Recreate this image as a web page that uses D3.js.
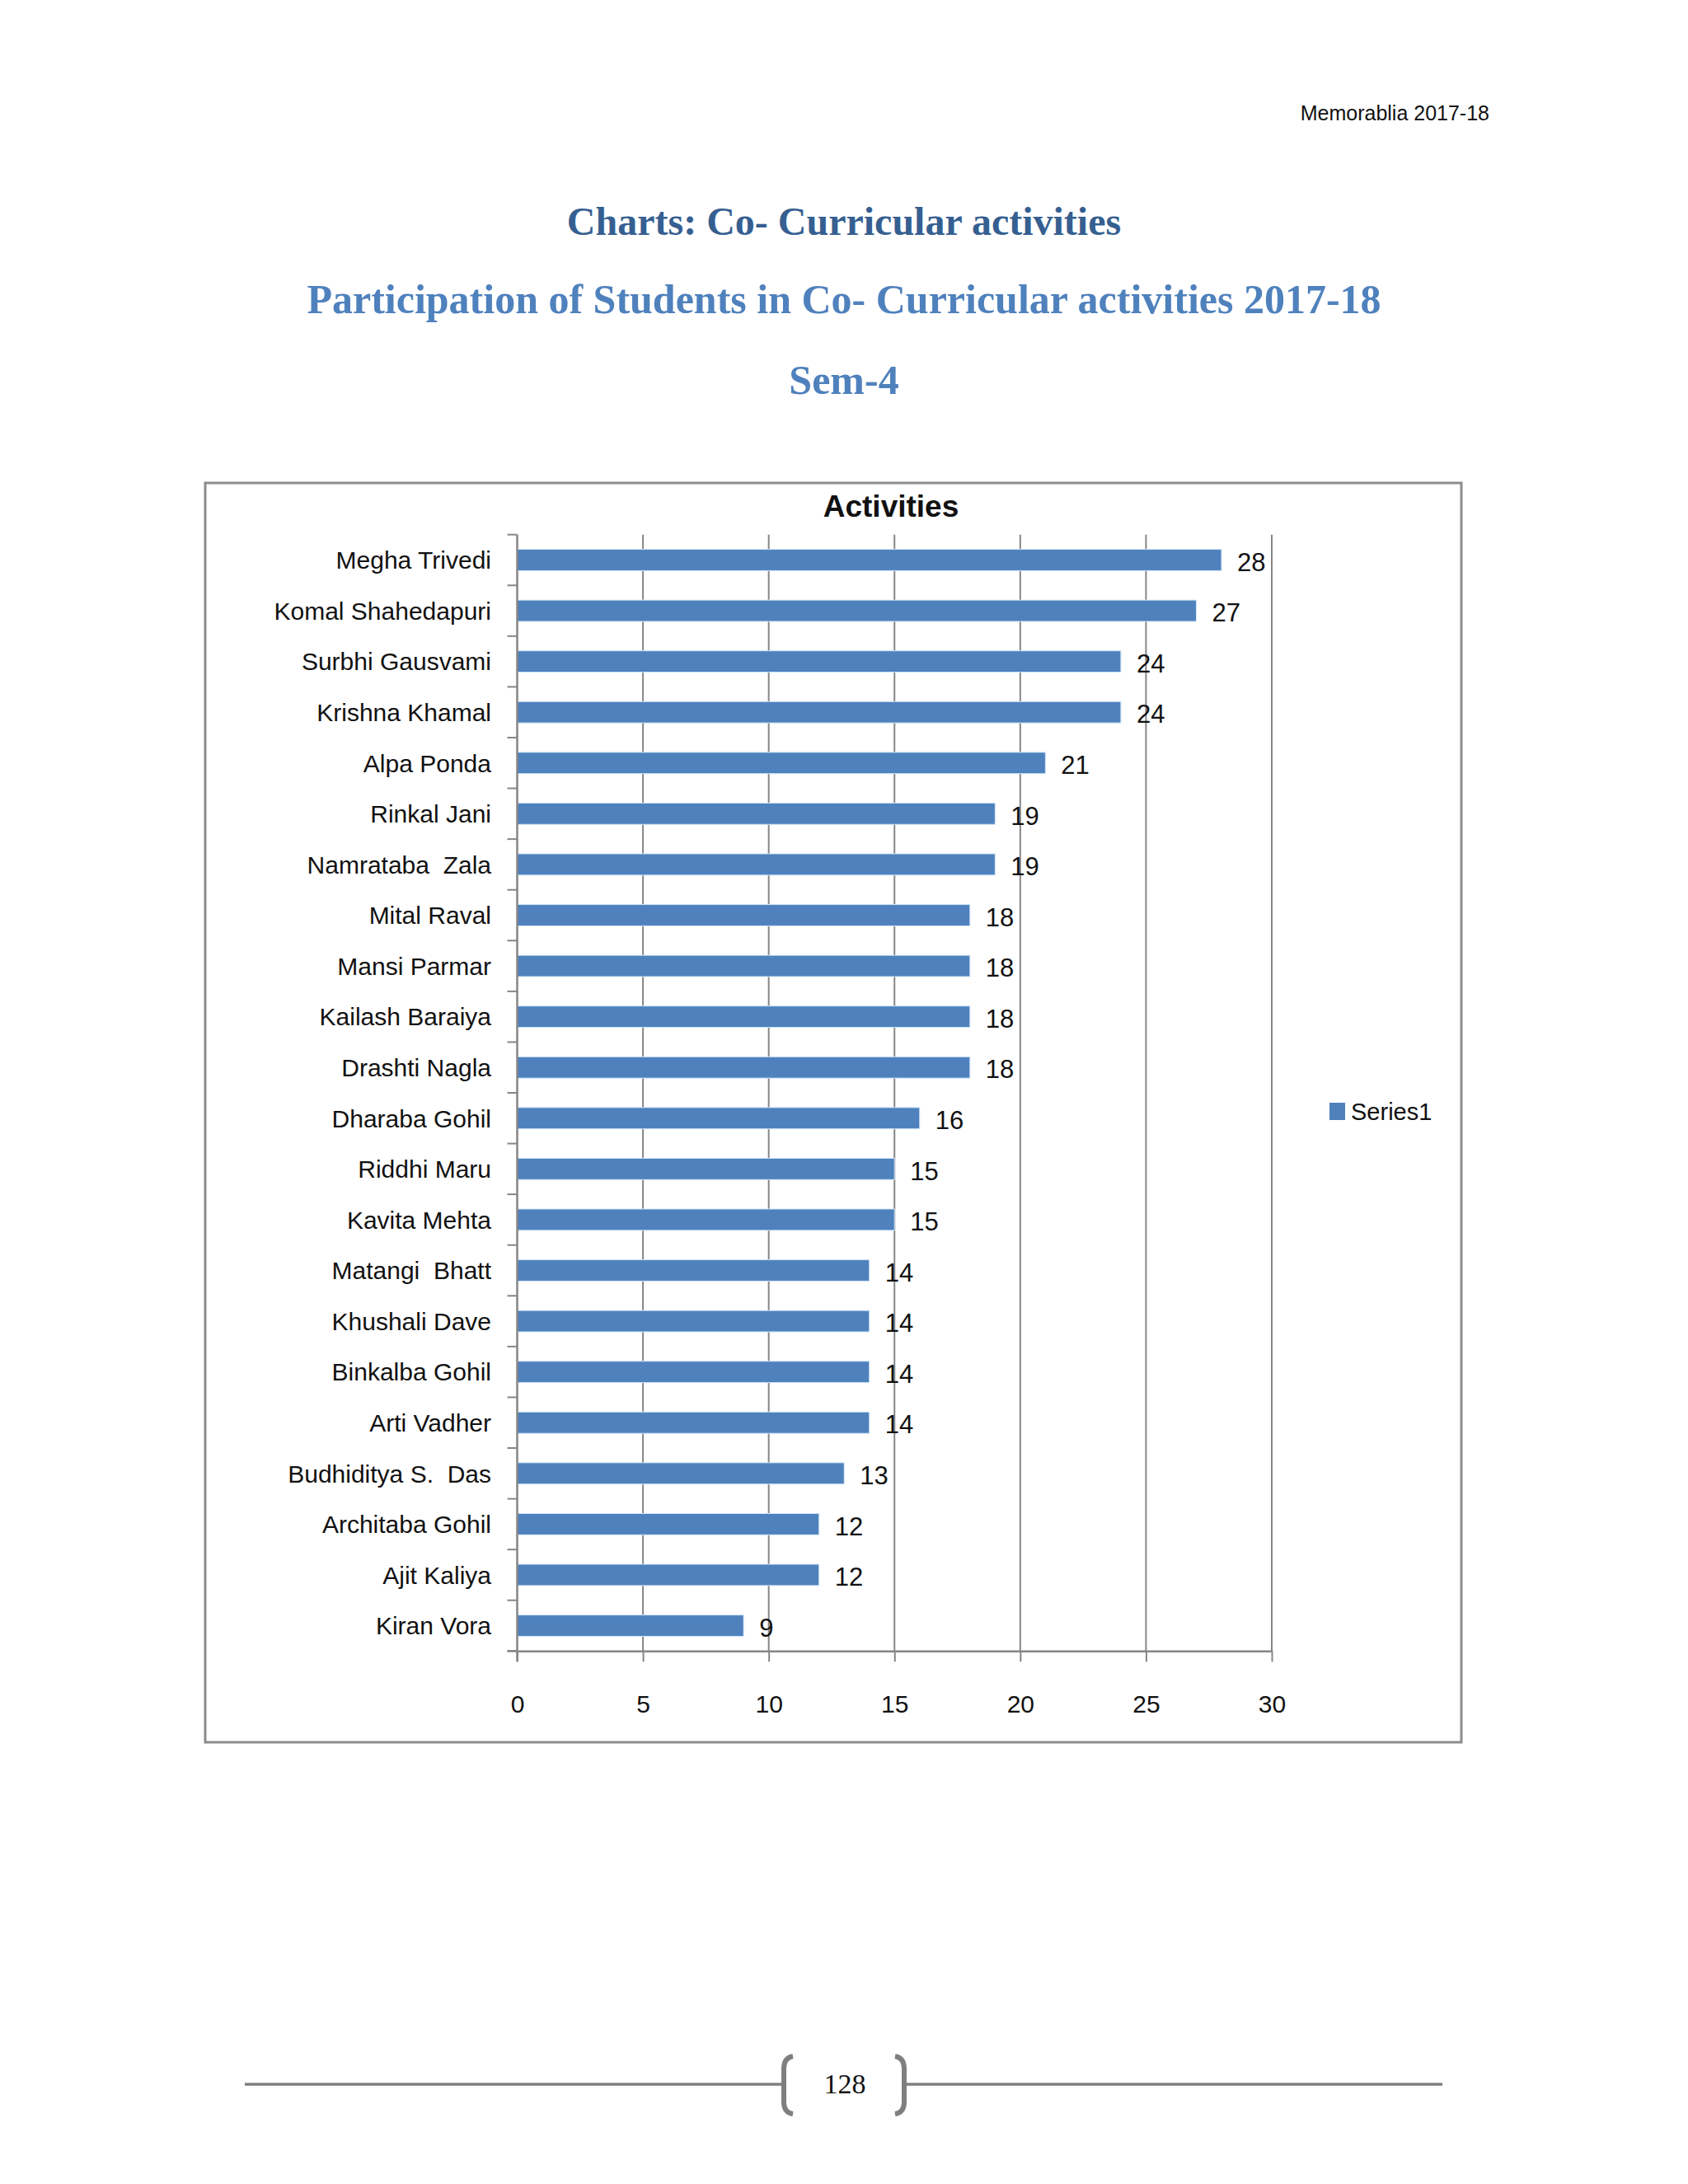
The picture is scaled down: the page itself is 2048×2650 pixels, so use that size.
<!DOCTYPE html>
<html>
<head>
<meta charset="utf-8">
<script src="https://cdn.jsdelivr.net/npm/d3@7"></script>
<style>
	body{margin:0;background:#ffffff;}
	svg{display:block;}
	text{white-space:pre;}
</style>
</head>
<body>
<div id="page"></div>
<script>
//data
var names = ["Megha Trivedi","Komal Shahedapuri","Surbhi Gausvami","Krishna Khamal","Alpa Ponda","Rinkal Jani",
	"Namrataba  Zala","Mital Raval","Mansi Parmar","Kailash Baraiya","Drashti Nagla","Dharaba Gohil","Riddhi Maru",
	"Kavita Mehta","Matangi  Bhatt","Khushali Dave","Binkalba Gohil","Arti Vadher","Budhiditya S.  Das",
	"Architaba Gohil","Ajit Kaliya","Kiran Vora"];
var activities = [28,27,24,24,21,19,19,18,18,18,18,16,15,15,14,14,14,14,13,12,12,9];
var xticks = [0,5,10,15,20,25,30];
var series_name = "Series1";
var chart_title = "Activities";
var page_titles = ["Charts: Co- Curricular activities","Participation of Students in Co- Curricular activities 2017-18","Sem-4"];

var W = 2048, H = 2650;
var sans = "'Liberation Sans', Arial, sans-serif";
var serif = "'Liberation Serif', 'Times New Roman', serif";
var grey = "#868686";
var bar_col = "#4f81bd";

var svg = d3.select("#page").append("svg").attr("width",W).attr("height",H);
svg.append("rect").attr("width",W).attr("height",H).attr("fill","#ffffff");

//page header
svg.append("text").attr("x",1807).attr("y",146).attr("text-anchor","end")
	.style("font-family",sans).style("font-size","25px").attr("fill","#111")
	.text("Memorablia 2017-18");

//headings
var heads = [
	{t:page_titles[0], y:285, size:48, col:"#365f91"},
	{t:page_titles[1], y:380, size:50, col:"#4f81bd"},
	{t:page_titles[2], y:478, size:50, col:"#4f81bd"}
];
svg.selectAll("text.head").data(heads).enter().append("text").classed("head",true)
	.attr("x",1024).attr("y",function(d){return d.y})
	.attr("text-anchor","middle")
	.style("font-family",serif).style("font-weight","bold")
	.style("font-size",function(d){return d.size+"px"})
	.attr("fill",function(d){return d.col})
	.text(function(d){return d.t});

//chart frame
svg.append("rect").attr("x",249).attr("y",586).attr("width",1524).attr("height",1528)
	.attr("fill","#ffffff").attr("stroke","#8c8c8c").attr("stroke-width",3);

svg.append("text").attr("x",1081).attr("y",627).attr("text-anchor","middle")
	.style("font-family",sans).style("font-weight","bold").style("font-size","37px").attr("fill","#111")
	.text(chart_title);

var plot = {left:627.5, right:1543, top:648.7, bottom:2003.3};

var x = d3.scaleLinear().domain([0,30]).range([plot.left, plot.right]);
var y = d3.scaleBand().domain(names).range([plot.top, plot.bottom]).paddingInner(0.58).paddingOuter(0.29);

var g = svg.append("g");

//gridlines
g.selectAll("line.grid").data(xticks.filter(function(d){return d>0})).enter().append("line")
	.classed("grid",true)
	.attr("x1",function(d){return x(d)}).attr("x2",function(d){return x(d)})
	.attr("y1",plot.top).attr("y2",plot.bottom)
	.attr("stroke",grey).attr("stroke-width",2);

//bars
g.selectAll("rect.bar").data(names).enter().append("rect").classed("bar",true)
	.attr("x",x(0))
	.attr("y",function(d){return y(d)})
	.attr("width",function(d,i){return x(activities[i]) - x(0)})
	.attr("height",y.bandwidth())
	.attr("fill",bar_col)
	.attr("stroke","#cfe6f7").attr("stroke-width",1);

//value labels
g.selectAll("text.val").data(names).enter().append("text").classed("val",true)
	.attr("x",function(d,i){return x(activities[i]) + 19})
	.attr("y",function(d){return y(d) + y.bandwidth()/2 + 2})
	.attr("dy","0.36em")
	.style("font-family",sans).style("font-size","31px").attr("fill","#111")
	.text(function(d,i){return activities[i]});

//x axis
var xaxis = g.append("g").attr("transform","translate(0,"+plot.bottom+")")
	.call(d3.axisBottom(x).tickValues(xticks).tickSize(13).tickSizeOuter(0).tickPadding(40));
xaxis.select(".domain").attr("stroke",grey).attr("stroke-width",2.5);
xaxis.selectAll(".tick line").attr("stroke",grey).attr("stroke-width",2);
xaxis.selectAll(".tick text").style("font-family",sans).style("font-size","30px").attr("fill","#111");
xaxis.append("line").attr("x1",plot.left-12).attr("x2",plot.left).attr("stroke",grey).attr("stroke-width",2.5);

//y axis with ticks between the categories
var yedges = d3.range(names.length+1).map(function(i){return plot.top + i*y.step()});
g.append("line").attr("x1",plot.left).attr("x2",plot.left).attr("y1",plot.top).attr("y2",plot.bottom+13)
	.attr("stroke",grey).attr("stroke-width",2.5);
g.selectAll("line.ytick").data(yedges).enter().append("line").classed("ytick",true)
	.attr("x1",plot.left-12).attr("x2",plot.left)
	.attr("y1",function(d){return d}).attr("y2",function(d){return d})
	.attr("stroke",grey).attr("stroke-width",2);

g.selectAll("text.name").data(names).enter().append("text").classed("name",true)
	.attr("x",596)
	.attr("y",function(d){return y(d) + y.bandwidth()/2})
	.attr("dy","0.36em")
	.attr("text-anchor","end")
	.style("font-family",sans).style("font-size","30px").attr("fill","#111")
	.text(function(d){return d});

//legend
var leg = svg.append("g").attr("transform","translate(1613,1338)");
leg.append("rect").attr("width",19).attr("height",21).attr("fill",bar_col);
leg.append("text").attr("x",26).attr("y",11).attr("dy","0.36em")
	.style("font-family",sans).style("font-size","29px").attr("fill","#111")
	.text(series_name);

//footer with page number
var foot = svg.append("g");
foot.append("line").attr("x1",297).attr("x2",950).attr("y1",2529).attr("y2",2529).attr("stroke","#7f7f7f").attr("stroke-width",3.5);
foot.append("line").attr("x1",1098).attr("x2",1750).attr("y1",2529).attr("y2",2529).attr("stroke","#7f7f7f").attr("stroke-width",3.5);
foot.append("path").attr("d","M962,2495 Q951,2497 951,2510 L951,2551 Q951,2563 962,2565")
	.attr("fill","none").attr("stroke","#7f7f7f").attr("stroke-width",6);
foot.append("path").attr("d","M1086,2495 Q1097,2497 1097,2510 L1097,2551 Q1097,2563 1086,2565")
	.attr("fill","none").attr("stroke","#7f7f7f").attr("stroke-width",6);
foot.append("text").attr("x",1025).attr("y",2540).attr("text-anchor","middle")
	.style("font-family",serif).style("font-size","34px").attr("fill","#111")
	.text("128");
</script>
</body>
</html>
